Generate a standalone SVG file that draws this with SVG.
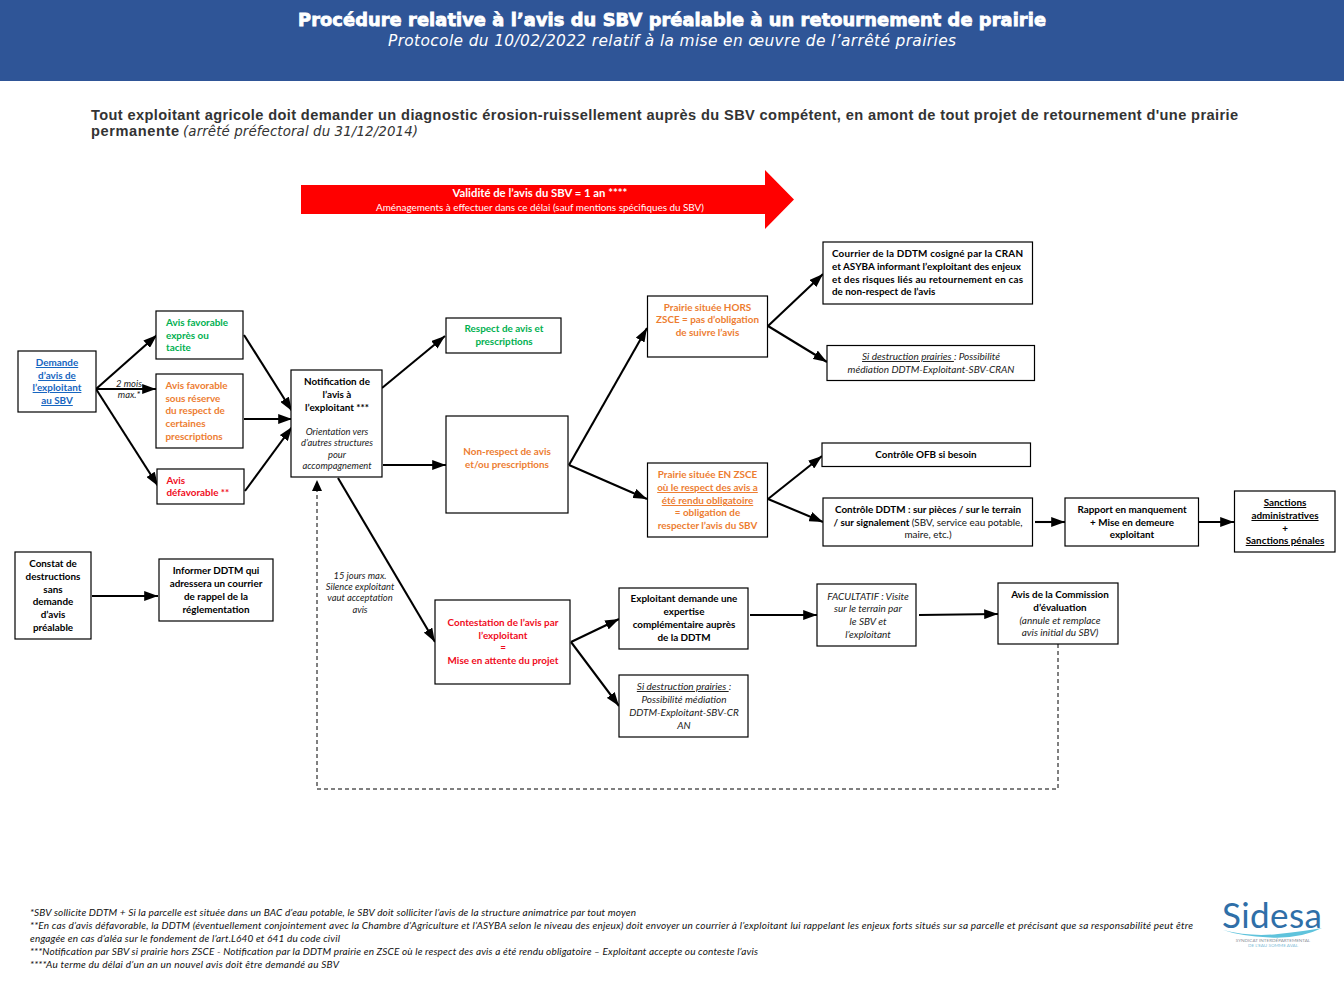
<svg xmlns="http://www.w3.org/2000/svg" width="1344" height="1008" viewBox="0 0 1344 1008">
<style>
text{font-family:"Lato","Carlito","Liberation Sans",sans-serif;font-size:9.9px;text-anchor:middle;fill:#111}
.b{font-weight:700;fill:#000}
.i{font-style:italic;font-size:9.4px;fill:#222}
.j{font-size:10px}
.l{text-anchor:start}
.g{fill:#00b050;font-weight:700}
.o{fill:#ed7d31;font-weight:700}
.r{fill:#f00c1c;font-weight:700}
.u{text-decoration:underline}
.bl{fill:#1565c0;font-weight:700;text-decoration:underline}
.box{fill:#fff;stroke:#000;stroke-width:1.2}
.c{fill:none;stroke:#000;stroke-width:2.100;marker-end:url(#a)}
.d{fill:none;stroke:#000;stroke-width:1;stroke-dasharray:4 3}
.f{font-style:italic;font-size:10px;text-anchor:start;fill:#111}
.h{font-family:"Liberation Sans",sans-serif;font-weight:700;font-size:14.600px;fill:#333;text-anchor:start}
</style>
<defs><marker id="a" viewBox="0 0 14 10" refX="14" refY="5" markerWidth="6.600" markerHeight="4.700" orient="auto"><path d="M0 0L14 5L0 10Z" fill="#000"/></marker></defs>
<rect width="1344" height="1008" fill="#fff"/>
<g id="header"><rect width="1344" height="81" fill="#2f5597"/>
<text x="672" y="26" style="font-family:'DejaVu Sans',sans-serif;font-weight:700;font-size:17.800px;fill:#fff;stroke:#fff;stroke-width:.8" textLength="748">Procédure relative à l’avis du SBV préalable à un retournement de prairie</text>
<text x="672" y="46" style="font-family:'DejaVu Sans',sans-serif;font-style:italic;font-size:15.400px;fill:#fff" textLength="568">Protocole du 10/02/2022 relatif à la mise en œuvre de l’arrêté prairies</text></g>
<g id="intro"><text class="h" x="91" y="120" textLength="1147">Tout exploitant agricole doit demander un diagnostic érosion-ruissellement auprès du SBV compétent, en amont de tout projet de retournement d'une prairie</text>
<text class="h" x="91" y="136" textLength="88">permanente</text>
<text class="l" x="183" y="136" style="font-family:'DejaVu Sans',sans-serif;font-style:italic;font-size:13.400px;fill:#333" textLength="235">(arrêté préfectoral du 31/12/2014)</text></g>
<g id="validite"><path d="M301 185H765V170L794 199.500L765 229V214H301Z" fill="#f00"/>
<text x="540" y="197" class="b" style="fill:#fff;font-size:11.300px">Validité de l’avis  du SBV = 1 an ****</text>
<text x="540" y="211" style="fill:#fff;font-size:9.900px">Aménagements à effectuer dans ce délai (sauf mentions spécifiques du SBV)</text></g>
<g id="connectors">
<path class="c" d="M96 389L157 335"/><path class="c" d="M96 389H156"/><path class="c" d="M96 389L158 486"/>
<path class="c" d="M244 335L292 411"/><path class="c" d="M244 419H292"/><path class="c" d="M245 491L292 427"/>
<path class="c" d="M382 388L445 336"/><path class="c" d="M383 465H446"/><path class="c" d="M338 478L435 642"/>
<path class="c" d="M569 465L647 328"/><path class="c" d="M569 465L647 499"/>
<path class="c" d="M768 326L823 274"/><path class="c" d="M768 326L827 362"/>
<path class="c" d="M768 499L822 456"/><path class="c" d="M768 499L823 522"/>
<path class="c" d="M1035 522H1065"/><path class="c" d="M1199 522H1234"/>
<path class="c" d="M92 596H158"/><path class="c" d="M571 642L619 619"/><path class="c" d="M571 642L619 706"/>
<path class="c" d="M750 615H817"/><path class="c" d="M919 615L998 614"/>
<path class="d" d="M1058 644V789H317V490"/><path d="M312 491L317 480L322 491Z" fill="#000"/>
</g>
<g id="n-demande"><rect class="box" x="18" y="351" width="78" height="61"/><text x="57" y="366" class="bl">Demande</text><text x="57" y="379" class="bl">d’avis de</text><text x="57" y="391" class="bl">l’exploitant</text><text x="57" y="404" class="bl">au SBV</text></g>
<g id="l-2mois"><text x="129" y="387" class="i">2 mois</text><text x="129" y="398" class="i">max.*</text></g>
<g id="n-favorable"><rect class="box" x="156" y="311" width="87" height="48"/><text class="g l" x="166" y="326">Avis favorable</text><text class="g l" x="166" y="339">exprès ou</text><text class="g l" x="166" y="351">tacite</text></g>
<g id="n-reserve"><rect class="box" x="156" y="374" width="87" height="74"/><text class="o l" x="165.500" y="389">Avis favorable</text><text class="o l" x="165.500" y="402">sous réserve</text><text class="o l" x="165.500" y="414">du respect de</text><text class="o l" x="165.500" y="427">certaines</text><text class="o l" x="165.500" y="440">prescriptions</text></g>
<g id="n-defavorable"><rect class="box" x="157" y="469" width="87" height="35"/><text class="r l" x="166.500" y="484">Avis</text><text class="r l" x="166.500" y="496">défavorable **</text></g>
<g id="n-notification"><rect class="box" x="291" y="370" width="91" height="107"/><text x="337" y="385" class="b">Notification de</text><text x="337" y="398" class="b">l’avis à</text><text x="337" y="411" class="b">l’exploitant ***</text><text x="337" y="435" class="i">Orientation vers</text><text x="337" y="446" class="i">d’autres structures</text><text x="337" y="458" class="i">pour</text><text x="337" y="469" class="i">accompagnement</text></g>
<g id="n-constat"><rect class="box" x="15" y="552" width="76" height="87"/><text x="53" y="567" class="b">Constat de</text><text x="53" y="580" class="b">destructions</text><text x="53" y="593" class="b">sans</text><text x="53" y="605" class="b">demande</text><text x="53" y="618" class="b">d’avis</text><text x="53" y="631" class="b">préalable</text></g>
<g id="n-informer"><rect class="box" x="159" y="559" width="114" height="62"/><text x="216" y="574" class="b">Informer DDTM qui</text><text x="216" y="587" class="b">adressera un courrier</text><text x="216" y="600" class="b">de rappel de la</text><text x="216" y="613" class="b">réglementation</text></g>
<g id="l-15jours"><text x="360" y="579" class="i">15 jours max.</text><text x="360" y="590" class="i">Silence exploitant</text><text x="360" y="601" class="i">vaut acceptation</text><text x="360" y="613" class="i">avis</text></g>
<g id="n-respect"><rect class="box" x="446" y="318" width="115" height="35"/><text class="g" x="504" y="332">Respect de avis et</text><text class="g" x="504" y="345">prescriptions</text></g>
<g id="n-nonrespect"><rect class="box" x="446" y="416" width="122" height="97"/><text class="o" x="507" y="455">Non-respect de avis</text><text class="o" x="507" y="468">et/ou prescriptions</text></g>
<g id="n-contestation"><rect class="box" x="435" y="600" width="135" height="84"/><text class="r" x="503" y="626">Contestation de l’avis par</text><text class="r" x="503" y="639">l’exploitant</text><text class="r" x="503" y="651">=</text><text class="r" x="503" y="664">Mise en attente du projet</text></g>
<g id="n-hors"><rect class="box" x="647.500" y="296" width="120" height="61"/><text class="o" x="707.500" y="311">Prairie située HORS</text><text class="o" x="707.500" y="323">ZSCE = pas d’obligation</text><text class="o" x="707.500" y="336">de suivre l’avis</text></g>
<g id="n-en"><rect class="box" x="647.500" y="463" width="120" height="74"/><text class="o" x="707.500" y="478">Prairie située EN ZSCE</text><text class="o u" x="707.500" y="491">où le respect des avis a</text><text class="o u" x="707.500" y="504">été rendu obligatoire</text><text class="o" x="707.500" y="516">= obligation de</text><text class="o" x="707.500" y="529">respecter l’avis du SBV</text></g>
<g id="n-courrier"><rect class="box" x="823" y="242" width="209.500" height="62"/><text class="b l" x="832" y="257" textLength="191">Courrier de la DDTM cosigné par la CRAN</text><text class="b l" x="832" y="270" textLength="189">et ASYBA informant l’exploitant des enjeux</text><text class="b l" x="832" y="283" textLength="191">et des risques liés au retournement en cas</text><text class="b l" x="832" y="295">de non-respect de l’avis</text></g>
<g id="n-sidestr"><rect class="box" x="827" y="345.500" width="207.500" height="35"/><text class="i j" x="931" y="360"><tspan class="u">Si destruction prairies </tspan>: Possibilité</text><text class="i j" x="931" y="373">médiation DDTM-Exploitant-SBV-CRAN</text></g>
<g id="n-ofb"><rect class="box" x="822" y="443" width="208.500" height="23.500"/><text class="b" x="926" y="458">Contrôle OFB si besoin</text></g>
<g id="n-ddtm"><rect class="box" x="823" y="498" width="209.500" height="48"/><text class="b" x="928" y="513">Contrôle DDTM : sur pièces / sur le terrain</text><text x="928" y="526"><tspan class="b">/ sur signalement </tspan>(SBV, service eau potable,</text><text x="928" y="538">maire, etc.)</text></g>
<g id="n-rapport"><rect class="box" x="1065" y="498" width="133.500" height="48"/><text class="b" x="1132" y="513">Rapport en manquement</text><text class="b" x="1132" y="526">+ Mise en demeure</text><text class="b" x="1132" y="538">exploitant</text></g>
<g id="n-sanctions"><rect class="box" x="1234.500" y="491" width="100.500" height="61"/><text class="b u" x="1285" y="506">Sanctions</text><text class="b u" x="1285" y="519">administratives</text><text class="b" x="1285" y="532">+</text><text class="b u" x="1285" y="544">Sanctions pénales</text></g>
<g id="n-expertise"><rect class="box" x="619" y="588" width="129" height="61"/><text class="b" x="684" y="602">Exploitant demande une</text><text class="b" x="684" y="615">expertise</text><text class="b" x="684" y="628">complémentaire auprès</text><text class="b" x="684" y="641">de la DDTM</text></g>
<g id="n-sidestr2"><rect class="box" x="619" y="675" width="129" height="62"/><text class="i j" x="684" y="690"><tspan class="u">Si destruction prairies </tspan>:</text><text class="i j" x="684" y="703">Possibilité médiation</text><text class="i j" x="684" y="716">DDTM-Exploitant-SBV-CR</text><text class="i j" x="684" y="729">AN</text></g>
<g id="n-facultatif"><rect class="box" x="817" y="584" width="99" height="62"/><text class="i j" x="868" y="600">FACULTATIF : Visite</text><text class="i j" x="868" y="612">sur le terrain par</text><text class="i j" x="868" y="625">le SBV et</text><text class="i j" x="868" y="638">l’exploitant</text></g>
<g id="n-commission"><rect class="box" x="998" y="583" width="120" height="61"/><text class="b" x="1060" y="598">Avis de la Commission</text><text class="b" x="1060" y="611">d’évaluation</text><text class="i j" x="1060" y="624">(annule et remplace</text><text class="i j" x="1060" y="636">avis initial du SBV)</text></g>
<g id="notes">
<text class="f" x="30" y="915.500" textLength="606">*SBV sollicite DDTM + Si la parcelle est située dans un BAC d’eau potable, le SBV doit solliciter l’avis de la structure animatrice par tout moyen</text>
<text class="f" x="30" y="928.500" textLength="1163">**En cas d’avis défavorable, la DDTM (éventuellement conjointement avec la Chambre d’Agriculture et l’ASYBA selon le niveau des enjeux) doit envoyer un courrier à l’exploitant lui rappelant les enjeux forts situés sur sa parcelle et précisant que sa responsabilité peut être</text>
<text class="f" x="30" y="941.500" textLength="310">engagée en cas d’aléa sur le fondement de l’art.L640 et 641 du code civil</text>
<text class="f" x="30" y="954.500" textLength="728">***Notification par SBV si prairie hors ZSCE - Notification par la DDTM prairie en ZSCE où le respect des avis a été rendu obligatoire – Exploitant accepte ou conteste l’avis</text>
<text class="f" x="30" y="967.500" textLength="309">****Au terme du délai d’un an un nouvel avis doit être demandé au SBV</text>
</g>
<g id="logo">
<text x="1272" y="928" style="font-family:'Lato',sans-serif;font-size:35px;fill:#2f6fa8" textLength="100">Sidesa</text>
<path d="M1223 930Q1250 937 1278 934T1322 928Q1300 939 1270 937.500T1223 930Z" fill="#5fc3dc"/>
<text x="1273" y="941.500" style="font-size:4.600px;fill:#8a8f98">SYNDICAT INTERDÉPARTEMENTAL</text>
<text x="1273" y="947" style="font-size:4.600px;fill:#7fbcd8">DE L’EAU SOMME AVAL</text>
</g>
</svg>
